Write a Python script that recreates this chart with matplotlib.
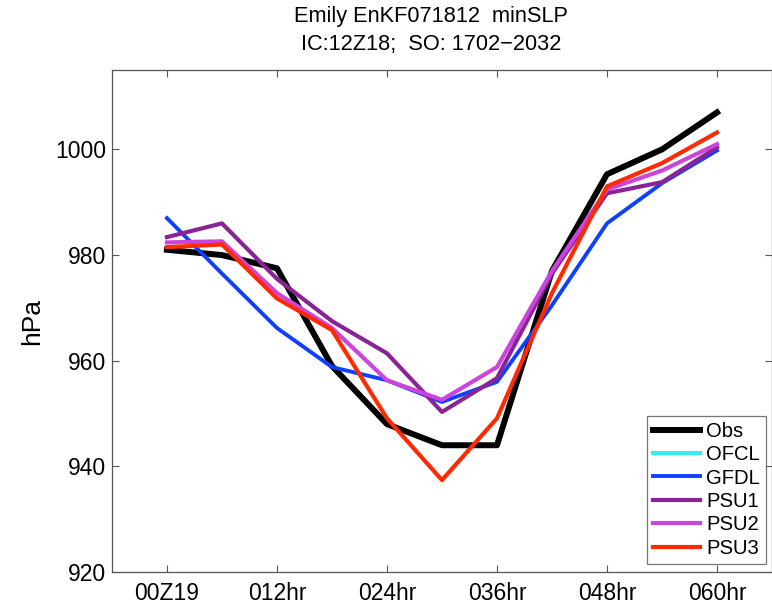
import numpy as np
import matplotlib.pyplot as plt

plt.rcParams['font.family'] = ['Liberation Sans', 'DejaVu Sans']

# forecast hour
hours = [0, 6, 12, 18, 24, 30, 36, 42, 48, 54, 60]
tick_hours = [0, 12, 24, 36, 48, 60]
tick_labels = ['00Z19', '012hr', '024hr', '036hr', '048hr', '060hr']

# min SLP (hPa)
obs  = [981, 980, 977.5, 959, 948, 944, 944, 977, 995.3, 1000, 1007]
ofcl = [np.nan] * 11
gfdl = [987, 976.5, 966.2, 958.8, 956.3, 952.2, 956, 970.5, 986, 993.6, 999.8]
psu1 = [983.4, 986, 975.5, 967.5, 961.4, 950.3, 956.7, 976.5, 991.7, 993.8, 1000.4]
psu2 = [982.4, 982.6, 972.8, 966.2, 956.3, 952.6, 958.8, 977, 992.4, 996, 1001]
psu3 = [981.5, 982, 971.8, 965.8, 949.1, 937.4, 949.1, 972.8, 993, 997.4, 1003.2]

fig = plt.figure(figsize=(7.72, 6.05), dpi=100)
ax = fig.add_axes([0.145, 0.0545, 0.855, 0.8295])

ax.plot(hours, obs, color='black', lw=4.3, label='Obs')
ax.plot(hours, ofcl, color='#33EEEE', lw=3, label='OFCL')
ax.plot(hours, gfdl, color='#0F40FF', lw=2.8, label='GFDL')
ax.plot(hours, psu1, color='#8A2496', lw=3, label='PSU1')
ax.plot(hours, psu2, color='#CC44DD', lw=3, label='PSU2')
ax.plot(hours, psu3, color='#FF2A00', lw=3, label='PSU3')

ax.set_xlim(-6, 66)
ax.set_ylim(920, 1015)
ax.set_xticks(tick_hours)
ax.set_xticklabels(tick_labels)
ax.set_yticks([920, 940, 960, 980, 1000])
ax.tick_params(direction='in', top=True, right=True, labelsize=16.5,
               length=5, width=0.8, color='#555555')
ax.tick_params(axis='x', pad=7)
ax.tick_params(axis='y', pad=4)
for s in ax.spines.values():
    s.set_color('#555555')
    s.set_linewidth(0.9)
ax.set_ylabel('hPa', fontsize=19, labelpad=8)

fig.text(0.558, 0.972, 'Emily EnKF071812  minSLP', ha='center', va='center', fontsize=15.7)
fig.text(0.558, 0.926, 'IC:12Z18;  SO: 1702\u22122032', ha='center', va='center', fontsize=15.7)

leg = ax.legend(loc='lower right', fontsize=14.6, handlelength=2.3, borderpad=0.3,
                labelspacing=0.22, handletextpad=0.3, fancybox=False,
                borderaxespad=0, bbox_to_anchor=(0.991, 0.016))
leg.get_frame().set_edgecolor('#555555')
leg.get_frame().set_linewidth(0.9)

fig.savefig('out.png', dpi=100)
